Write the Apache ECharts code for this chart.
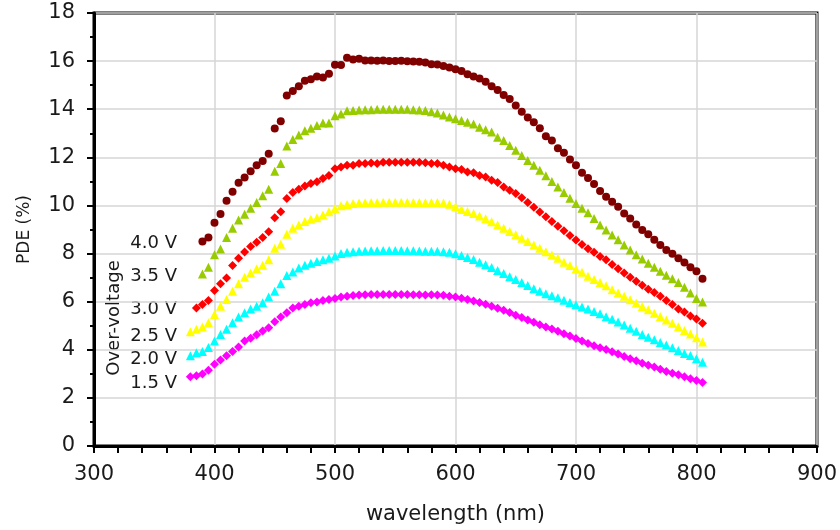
<!DOCTYPE html>
<html>
<head>
<meta charset="utf-8">
<script src="https://cdn.jsdelivr.net/npm/echarts@6/dist/echarts.min.js"></script>
<style>
html, body { margin: 0; padding: 0; background: #fff; }
#main { width: 840px; height: 530px; }
</style>
</head>
<body>
<div id="main"></div>
<script>
// wavelength grid (nm)
var wl = [380, 385, 390, 395, 400, 405, 410, 415, 420, 425,
	430, 435, 440, 445, 450, 455, 460, 465, 470, 475,
	480, 485, 490, 495, 500, 505, 510, 515, 520, 525,
	530, 535, 540, 545, 550, 555, 560, 565, 570, 575,
	580, 585, 590, 595, 600, 605, 610, 615, 620, 625,
	630, 635, 640, 645, 650, 655, 660, 665, 670, 675,
	680, 685, 690, 695, 700, 705, 710, 715, 720, 725,
	730, 735, 740, 745, 750, 755, 760, 765, 770, 775,
	780, 785, 790, 795, 800, 805];

// PDE (%) per over-voltage
var pde40 = [null, null,
	8.5, 8.67, 9.28, 9.64, 10.19, 10.57, 10.94, 11.16, 11.42, 11.67,
	11.85, 12.15, 13.2, 13.5, 14.57, 14.76, 14.95, 15.18, 15.25, 15.36,
	15.32, 15.47, 15.85, 15.84, 16.14, 16.07, 16.1, 16.03, 16.03, 16.02,
	16.03, 16.0, 16.0, 16.01, 15.99, 15.98, 15.97, 15.94, 15.87, 15.86,
	15.8, 15.73, 15.66, 15.59, 15.45, 15.36, 15.28, 15.14, 14.95, 14.8,
	14.59, 14.42, 14.15, 13.9, 13.66, 13.46, 13.21, 12.88, 12.7, 12.38,
	12.19, 11.91, 11.67, 11.36, 11.14, 10.89, 10.6, 10.36, 10.15, 9.95,
	9.67, 9.46, 9.21, 8.98, 8.8, 8.57, 8.36, 8.15, 7.99, 7.81,
	7.63, 7.43, 7.26, 6.95];
var pde35 = [null, null,
	7.15, 7.43, 7.95, 8.19, 8.67, 9.05, 9.39, 9.63, 9.88, 10.12,
	10.4, 10.67, 11.42, 11.74, 12.47, 12.74, 12.93, 13.11, 13.21, 13.32,
	13.43, 13.43, 13.73, 13.8, 13.94, 13.95, 13.97, 13.98, 13.98, 14.0,
	14.0, 14.0, 14.0, 14.0, 14.0, 13.98, 13.97, 13.95, 13.9, 13.84,
	13.76, 13.68, 13.6, 13.53, 13.46, 13.39, 13.25, 13.15, 13.05, 12.84,
	12.7, 12.49, 12.29, 12.08, 11.87, 11.67, 11.46, 11.23, 11.0, 10.77,
	10.54, 10.3, 10.08, 9.88, 9.7, 9.46, 9.19, 8.98, 8.77, 8.57,
	8.36, 8.15, 7.95, 7.77, 7.6, 7.43, 7.26, 7.1, 6.95, 6.8,
	6.6, 6.36, 6.13, 5.99];
var pde30 = [null,
	5.74, 5.88, 6.05, 6.46, 6.74, 6.98, 7.5, 7.81, 8.06, 8.29,
	8.47, 8.67, 8.91, 9.49, 9.74, 10.29, 10.54, 10.67, 10.81, 10.91,
	10.98, 11.12, 11.25, 11.53, 11.6, 11.67, 11.67, 11.74, 11.74, 11.76,
	11.74, 11.8, 11.8, 11.8, 11.8, 11.8, 11.8, 11.8, 11.77, 11.74,
	11.74, 11.67, 11.6, 11.53, 11.49, 11.39, 11.36, 11.25, 11.18, 11.05,
	10.95, 10.77, 10.63, 10.5, 10.32, 10.12, 9.93, 9.73, 9.53, 9.33,
	9.13, 8.95, 8.75, 8.56, 8.38, 8.2, 8.05, 7.88, 7.74, 7.55,
	7.37, 7.19, 7.01, 6.85, 6.68, 6.52, 6.38, 6.23, 6.05, 5.88,
	5.7, 5.57, 5.4, 5.28, 5.1];
var pde25 = [
	4.75, 4.85, 4.95, 5.12, 5.47, 5.81, 6.09, 6.43, 6.74, 7.01,
	7.19, 7.37, 7.51, 7.74, 8.22, 8.39, 8.8, 9.05, 9.19, 9.33,
	9.43, 9.49, 9.6, 9.74, 9.87, 9.99, 10.04, 10.08, 10.1, 10.11,
	10.12, 10.12, 10.13, 10.13, 10.13, 10.13, 10.13, 10.12, 10.12, 10.11,
	10.12, 10.12, 10.1, 10.05, 9.95, 9.83, 9.75, 9.66, 9.56, 9.45,
	9.32, 9.19, 9.05, 8.92, 8.78, 8.64, 8.5, 8.36, 8.22, 8.08,
	7.94, 7.8, 7.64, 7.5, 7.36, 7.22, 7.06, 6.92, 6.8, 6.66,
	6.5, 6.36, 6.22, 6.08, 5.94, 5.8, 5.66, 5.52, 5.38, 5.24,
	5.1, 4.96, 4.8, 4.66, 4.5, 4.32];
var pde20 = [
	3.75, 3.88, 3.93, 4.09, 4.37, 4.64, 4.85, 5.12, 5.36, 5.54,
	5.7, 5.81, 5.95, 6.19, 6.43, 6.74, 7.09, 7.23, 7.4, 7.51,
	7.6, 7.67, 7.74, 7.81, 7.9, 8.0, 8.05, 8.08, 8.1, 8.11,
	8.12, 8.12, 8.13, 8.13, 8.13, 8.13, 8.12, 8.12, 8.11, 8.1,
	8.1, 8.1, 8.08, 8.05, 7.99, 7.92, 7.84, 7.75, 7.64, 7.53,
	7.42, 7.3, 7.17, 7.04, 6.92, 6.8, 6.67, 6.54, 6.43, 6.33,
	6.25, 6.16, 6.06, 5.97, 5.87, 5.78, 5.69, 5.59, 5.5, 5.37,
	5.27, 5.15, 5.03, 4.9, 4.77, 4.64, 4.52, 4.42, 4.3, 4.2,
	4.08, 3.97, 3.85, 3.76, 3.63, 3.48];
var pde15 = [
	2.88, 2.92, 2.99, 3.15, 3.4, 3.57, 3.75, 3.93, 4.12, 4.37,
	4.48, 4.62, 4.78, 4.92, 5.17, 5.36, 5.54, 5.74, 5.81, 5.88,
	5.95, 5.99, 6.05, 6.09, 6.13, 6.19, 6.22, 6.26, 6.28, 6.29,
	6.3, 6.3, 6.3, 6.3, 6.3, 6.3, 6.3, 6.29, 6.29, 6.28,
	6.29, 6.28, 6.27, 6.23, 6.19, 6.14, 6.09, 6.03, 5.97, 5.89,
	5.81, 5.73, 5.64, 5.55, 5.44, 5.34, 5.24, 5.14, 5.04, 4.95,
	4.86, 4.77, 4.67, 4.57, 4.47, 4.36, 4.26, 4.17, 4.08, 4.01,
	3.92, 3.82, 3.72, 3.63, 3.54, 3.44, 3.36, 3.28, 3.19, 3.1,
	3.02, 2.96, 2.88, 2.8, 2.72, 2.64];

var voltLabels = ['4.0 V', '3.5 V', '3.0 V', '2.5 V', '2.0 V', '1.5 V'];
var xTicks = [300, 400, 500, 600, 700, 800, 900];

var FONT = 'DejaVu Sans';

function pairs(vals) {
	var arr = [];
	for (var i = 0; i < wl.length; i++) {
		if (vals[i] != null) arr.push([wl[i], vals[i]]);
	}
	return arr;
}

function scatter(name, vals, symbol, size, color) {
	return {
		name: name,
		type: 'scatter',
		symbol: symbol,
		symbolSize: size,
		itemStyle: { color: color, opacity: 1 },
		data: pairs(vals)
	};
}

var chart = echarts.init(document.getElementById('main'));

// label text blocks on the left
var g = [];
var labelY = [243, 276, 309, 336, 359, 383];
for (var i = 0; i < voltLabels.length; i++) {
	g.push({
		type: 'text', x: 177, y: labelY[i],
		style: { text: voltLabels[i], font: '18px ' + FONT, fill: '#1a1a1a', align: 'right', verticalAlign: 'middle' }
	});
}
g.push({
	type: 'text', x: 114, y: 318, rotation: Math.PI / 2,
	style: { text: 'Over-voltage', font: '18px ' + FONT, fill: '#1a1a1a', align: 'center', verticalAlign: 'middle' }
});

chart.setOption({
	animation: false,
	backgroundColor: '#fff',
	textStyle: { fontFamily: FONT },
	grid: { left: 94, right: 19, top: 13, bottom: 81, show: true, borderColor: '#000', borderWidth: 3 },
	xAxis: {
		type: 'value',
		min: xTicks[0], max: xTicks[xTicks.length - 1], interval: 100,
		name: 'wavelength (nm)',
		nameLocation: 'middle', nameGap: 58,
		nameTextStyle: { fontSize: 21, color: '#1a1a1a', fontFamily: FONT },
		axisLine: { lineStyle: { color: '#000', width: 3 } },
		axisTick: { length: 7, lineStyle: { color: '#000', width: 2 } },
		minorTick: { show: true, splitNumber: 5, length: 7, lineStyle: { color: '#000', width: 2 } },
		axisLabel: { fontSize: 21, color: '#1a1a1a', margin: 18, fontFamily: FONT },
		splitLine: { show: true, lineStyle: { color: '#d6d6d6', width: 1.5 } }
	},
	yAxis: {
		type: 'value',
		min: 0, max: 18, interval: 2,
		name: 'PDE (%)',
		nameLocation: 'middle', nameGap: 61,
		nameTextStyle: { fontSize: 17, color: '#1a1a1a', fontFamily: FONT },
		axisLine: { lineStyle: { color: '#000', width: 3 } },
		axisTick: { length: 7, lineStyle: { color: '#000', width: 2 } },
		minorTick: { show: true, splitNumber: 2, length: 4, lineStyle: { color: '#000', width: 2 } },
		axisLabel: { fontSize: 21, color: '#1a1a1a', margin: 19, fontFamily: FONT },
		splitLine: { show: true, lineStyle: { color: '#d6d6d6', width: 1.5 } }
	},
	graphic: g,
	series: [
		scatter('1.5 V', pde15, 'diamond', 9, '#ff00ff'),
		scatter('2.0 V', pde20, 'triangle', 9, '#00ffff'),
		scatter('2.5 V', pde25, 'triangle', 9, '#ffff00'),
		scatter('3.0 V', pde30, 'diamond', 9, '#ff0000'),
		scatter('3.5 V', pde35, 'triangle', 9, '#99cc00'),
		scatter('4.0 V', pde40, 'circle', 8, '#800000')
	]
});
</script>
</body>
</html>
